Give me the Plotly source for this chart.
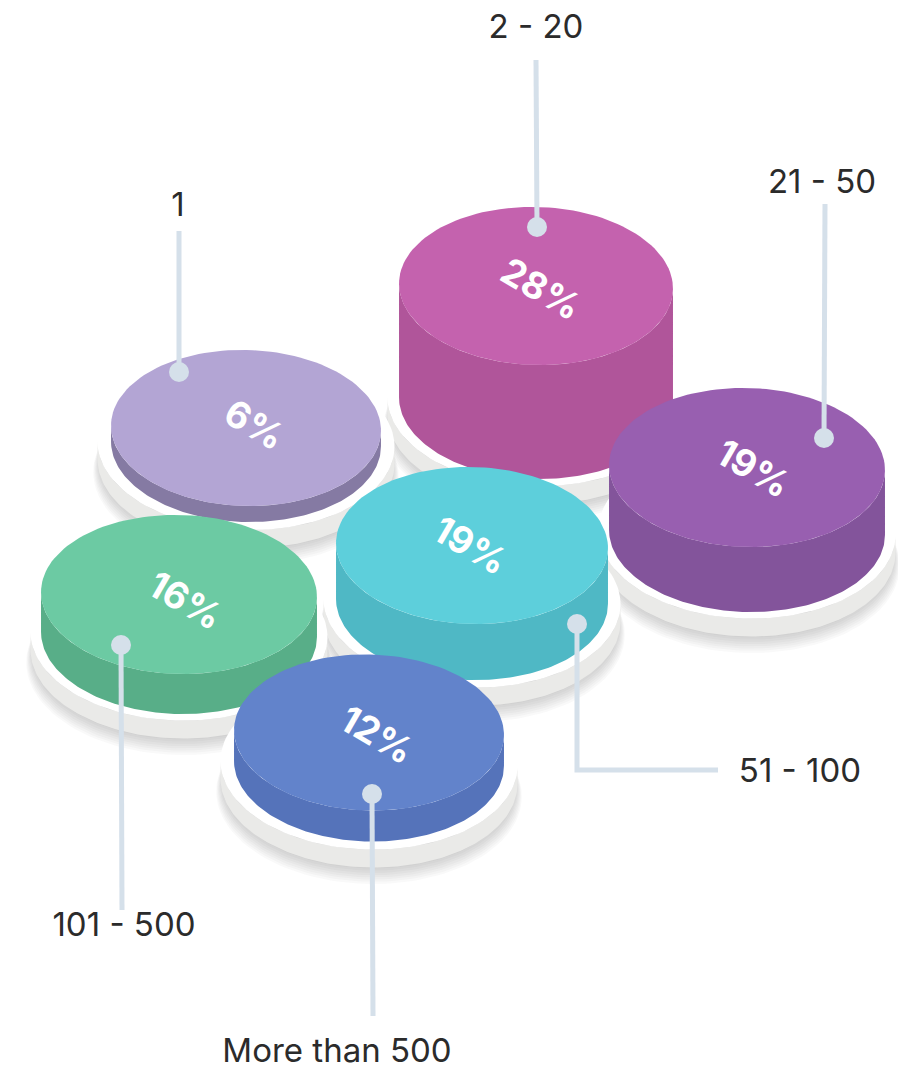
import numpy as np
import plotly.graph_objects as go

# Values, back to front
categories = ["2 - 20", "1", "21 - 50", "51 - 100", "101 - 500", "More than 500"]
shares = [28, 6, 19, 19, 16, 12]
cyl_heights = [114, 16, 65, 56, 40, 31]

# Where each cylinder sits on the page (pixels)
cyl_x = [536, 246, 747, 472, 179, 369]
cyl_y = [286, 428, 467.5, 545.5, 594.5, 732.5]
cyl_rx = [137, 135, 138, 136, 138, 135]
cyl_ry = [79, 78, 79.5, 78.5, 79.5, 78]
top_colors = ["#c462ae", "#b3a5d4", "#985fb0", "#5dcfdb", "#6ccaa3", "#6283cb"]
side_colors = ["#b0559a", "#857aa3", "#83549b", "#4fb8c5", "#58ae88", "#5573ba"]
text_x = [541, 255, 754, 471, 186, 377]
text_y = [288, 424, 468, 545, 600, 734]

# Leader lines and where their labels go
leader_x = [[536, 537], [179, 179], [825, 824], [718, 577, 577], [122, 121], [373, 372]]
leader_y = [[60, 227], [231, 372], [204, 438], [770, 770, 624], [910, 645], [1016, 794]]
label_x = [536, 178, 822, 800, 124, 337]
label_y = [30, 208, 185, 774, 928, 1054]

TILT = np.radians(1.5)
FONT = "Inter, sans-serif"
LEADER = "#d5e0ea"
PLATE_RX = 148.5
PLATE_RY = 86
PLATE_H = 18


def ellipse(cx, cy, rx, ry, t0=0.0, t1=2 * np.pi, n=140):
    t = np.linspace(t0, t1, n)
    x = cx + rx * np.cos(t) * np.cos(TILT) - ry * np.sin(t) * np.sin(TILT)
    y = cy + rx * np.cos(t) * np.sin(TILT) + ry * np.sin(t) * np.cos(TILT)
    return x, y


def lower_start(rx, ry):
    return np.arctan(-(ry / rx) * np.tan(TILT))


def filled(x, y, color, opacity=1.0):
    return go.Scatter(x=x, y=y, mode="lines", fill="toself", fillcolor=color,
                      line=dict(width=0), opacity=opacity, hoverinfo="skip")


def drum(cx, cy, rx, ry, h, side, top):
    # side wall = lower half of the bottom ellipse + upper rim back along the top
    t0 = lower_start(rx, ry)
    bx, by = ellipse(cx, cy + h, rx, ry, t0, t0 + np.pi)
    tx, ty = ellipse(cx, cy, rx, ry, t0 + np.pi, t0)
    return [filled(np.r_[bx, tx], np.r_[by, ty], side),
            filled(*ellipse(cx, cy, rx, ry), top)]


traces = []
for i in range(len(shares)):
    cx, cy, rx, ry, h = cyl_x[i], cyl_y[i], cyl_rx[i], cyl_ry[i], cyl_heights[i]
    base_y = cy + h

    # soft shadow under the plate
    for k in range(8):
        sx, sy = ellipse(cx, base_y + PLATE_H + 2 + k * 1.5, PLATE_RX - 2 + k * 0.9, PLATE_RY - 1 + k * 0.7)
        traces.append(filled(sx, sy, "#4a4a4a", 0.032))

    # plate, then the cylinder on it
    traces += drum(cx, base_y, PLATE_RX, PLATE_RY, PLATE_H, "#eaeae8", "#ffffff")
    traces += drum(cx, cy, rx, ry, h, side_colors[i], top_colors[i])

# Leaders and end dots
for lx, ly in zip(leader_x, leader_y):
    traces.append(go.Scatter(x=lx, y=ly, mode="lines",
                             line=dict(color=LEADER, width=5), hoverinfo="skip"))
    traces.append(go.Scatter(x=[lx[-1]], y=[ly[-1]], mode="markers",
                             marker=dict(color=LEADER, size=20), hoverinfo="skip"))

# Category labels
traces.append(go.Scatter(x=label_x, y=label_y, mode="text", text=categories,
                         textposition="middle center",
                         textfont=dict(family=FONT, size=33, color="#2b2b2b"),
                         hoverinfo="skip"))

annotations = []
for i in range(len(shares)):
    annotations.append(dict(
        x=text_x[i], y=text_y[i], xref="x", yref="y", showarrow=False,
        text=f"<b>{shares[i]}%</b>", textangle=30,
        font=dict(family=FONT, size=37, color="#ffffff"),
    ))

fig = go.Figure(data=traces, layout=go.Layout(
    width=898,
    height=1070,
    margin=dict(l=0, r=0, t=0, b=0),
    paper_bgcolor="#ffffff",
    plot_bgcolor="#ffffff",
    showlegend=False,
    xaxis=dict(range=[0, 898], visible=False, fixedrange=True),
    yaxis=dict(range=[1070, 0], visible=False, fixedrange=True),
    annotations=annotations,
))

fig.write_html("out.html", config=dict(displayModeBar=False),
               post_script="document.body.style.margin='0';")
